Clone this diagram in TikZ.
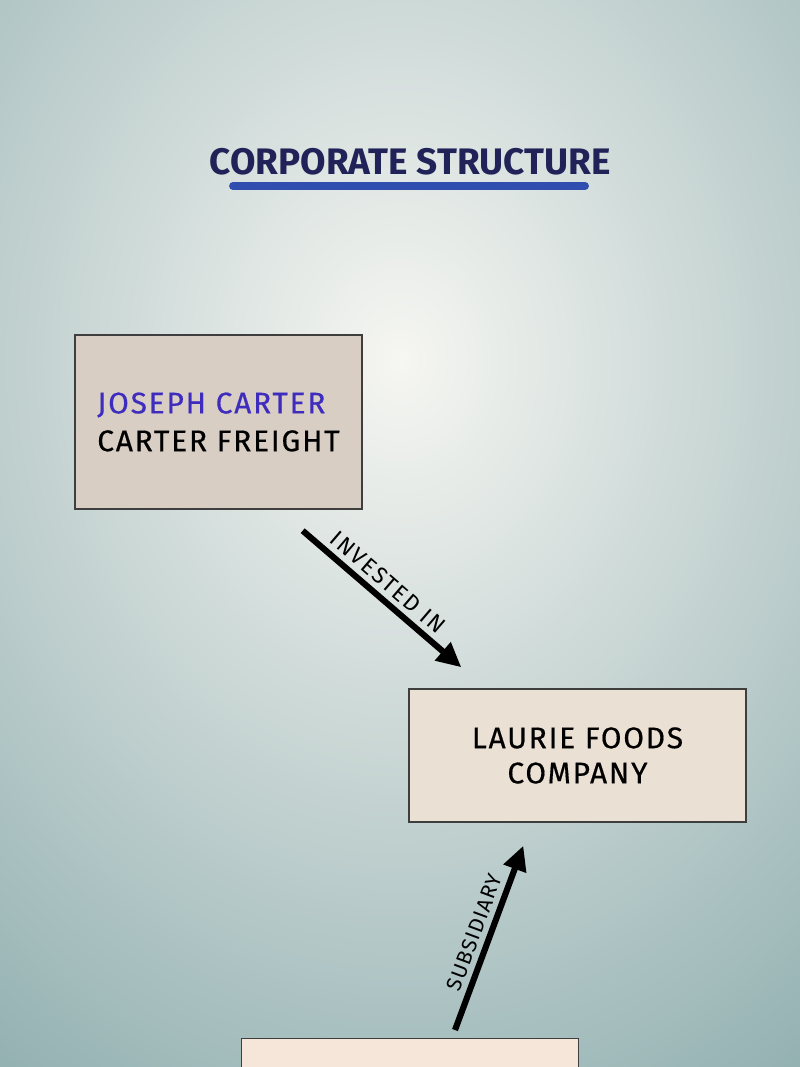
\documentclass[tikz,border=0pt]{standalone}
\usepackage{fontspec}
\setmainfont{Fira Sans}
\usetikzlibrary{arrows.meta,positioning,calc}
\definecolor{bgin}{RGB}{246,246,242}
\definecolor{bgout}{RGB}{132,166,168}
\definecolor{ink}{RGB}{32,34,88}
\definecolor{bar}{RGB}{48,78,176}
\definecolor{nom}{RGB}{62,44,190}
\definecolor{frame}{RGB}{62,62,62}
\definecolor{paperA}{RGB}{216,206,196}
\definecolor{paperB}{RGB}{234,224,212}
\definecolor{paperC}{RGB}{246,230,218}
\tikzset{
	box/.style={draw=frame,line width=0.8pt,rectangle,align=center,inner sep=0pt,font=\fontsize{17}{21.5}\selectfont\addfontfeature{LetterSpace=6,FakeBold=0.5}},
	arr/.style={-{Triangle[length=14pt,width=13pt]},line width=3.5pt},
	lbl/.style={font=\fontsize{13}{15}\selectfont\addfontfeature{LetterSpace=8},inner sep=3pt}
}

\begin{document}
\begin{tikzpicture}[x=0.02cm,y=0.02cm]
            \clip (0,0) rectangle (800,-1067);
            \fill[bgout] (0,0) rectangle (800,-1067);
            \shade[inner color=bgin,outer color=bgout] (400,-360) ellipse (820 and 1000);
            \node[text=ink,font=\fontsize{21}{24}\selectfont\bfseries] (ttl) at (410,-162) {CORPORATE STRUCTURE};
            \draw[bar,line width=4.5pt,line cap=round] (233,-186) -- (585,-186);
            \node[box,fill=paperA,minimum width=5.74cm,minimum height=3.48cm,align=left] (jos) at (218.5,-422) {\textcolor{nom}{JOSEPH CARTER}\\CARTER FREIGHT};
            \node[box,fill=paperB,minimum width=6.74cm,minimum height=2.66cm,font=\fontsize{17}{20}\selectfont\addfontfeature{LetterSpace=6,FakeBold=0.5}] (lau) at (577.5,-755.5) {LAURIE FOODS\\COMPANY};
            \node[box,fill=paperC,minimum width=6.74cm,minimum height=2cm,anchor=north west] (car) at (241,-1038) {};
            \coordinate (s1) at ($(jos.south east)+(-60,-21)$);
            \coordinate (e1) at ($(lau.north west)+(53,21)$);
            \coordinate (s2) at ($(car.north west)+(214,8)$);
            \coordinate (e2) at ($(lau.south west)+(115,-23)$);
            \draw[arr] (s1) -- node[lbl,sloped,above,pos=0.47] {INVESTED IN} (e1);
            \draw[arr] (s2) -- node[lbl,sloped,above,pos=0.5,font=\fontsize{12}{14}\selectfont\addfontfeature{LetterSpace=6}] {SUBSIDIARY} (e2);
        \end{tikzpicture}
\end{document}
